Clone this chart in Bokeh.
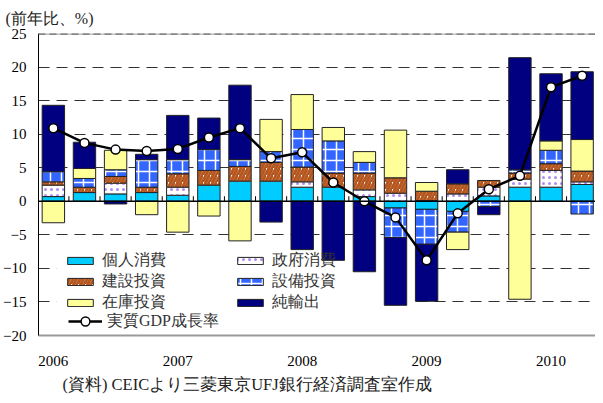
import numpy as np
from bokeh.plotting import figure
from bokeh.models import (ColumnDataSource, Range1d, FixedTicker, Span, Title,
                          Legend, LegendItem)
from bokeh.embed import file_html
from bokeh.resources import INLINE

# ---------------- data ----------------
quarters = ["2006Q1", "2006Q2", "2006Q3", "2006Q4",
            "2007Q1", "2007Q2", "2007Q3", "2007Q4",
            "2008Q1", "2008Q2", "2008Q3", "2008Q4",
            "2009Q1", "2009Q2", "2009Q3", "2009Q4",
            "2010Q1", "2010Q2"]
years = ["2006", "2007", "2008", "2009", "2010"]
series_names = ["個人消費", "政府消費", "建設投資", "設備投資", "在庫投資", "純輸出"]
gdp_name = "実質GDP成長率"
unit_text = "(前年比、%)"
source_text = "(資料) CEICより三菱東京UFJ銀行経済調査室作成"

personal     = [0.7, 1.3, 1.1, 1.3, 0.9, 2.4, 3.0, 3.0, 2.1, 2.1, 0.7, -1.0, -1.2, -1.5, 0.8, 2.1, 2.1, 2.5]
government   = [1.7, 0.0, 1.6, 0.0, 1.2, 0.0, 0.0, 0.0, 0.8, 0.0, 1.0, 1.2, 0.1, 1.1, 1.3, 1.2, 2.5, 0.4]
construction = [0.5, 0.8, 1.0, 0.8, 2.0, 2.2, 2.2, 2.8, 2.2, 2.1, 2.5, 2.3, 1.4, 1.5, 1.0, 0.9, 1.0, 1.6]
equipment    = [1.5, 1.3, 1.0, 4.1, 2.1, 3.1, 1.0, 1.6, 5.6, 4.8, 1.6, -4.4, -5.2, -3.1, -0.8, 0.5, 2.0, -1.9]
inventory    = [-3.2, 1.5, 2.9, -2.0, -4.6, -2.2, -5.9, 4.8, 5.2, 2.0, 1.6, 7.1, 1.3, -2.6, 0.0, -14.6, 1.4, 4.7]
net_exports  = [9.9, 3.9, -0.4, 0.8, 6.6, 4.7, 11.1, -3.1, -7.2, -8.8, -10.5, -10.1, -8.5, 2.1, -1.2, 16.7, 10.0, 10.1]
gdp_growth   = [10.9, 8.7, 7.7, 7.5, 7.8, 9.5, 10.9, 6.4, 7.3, 2.8, 0.0, -2.4, -8.8, -1.8, 1.8, 3.8, 17.0, 18.7]

y_ticks = [-20, -15, -10, -5, 0, 5, 10, 15, 20, 25]

# ---------------- styles ----------------
styles = [
    dict(fill_color="#00CCFF"),
    dict(fill_color="white", hatch_pattern=".", hatch_color="#B08CF0", hatch_scale=6, hatch_weight=1.5),
    dict(fill_color="white", hatch_pattern="/", hatch_color="#B5561F", hatch_scale=7, hatch_weight=3),
    dict(fill_color="#3366FF", hatch_pattern="+", hatch_color="white", hatch_scale=11, hatch_weight=1.5),
    dict(fill_color="#FFFF99"),
    dict(fill_color="#000080"),
]

n = len(quarters)
xs = np.arange(n)
X0, X1, Y0, Y1 = -0.478, 17.43, -20, 25
FRAME_W, FRAME_H = 562, 303          # pixels

p = figure(width=595, height=398,
           x_range=Range1d(X0, X1), y_range=Range1d(Y0, Y1),
           output_backend="svg", toolbar_location=None,
           min_border_left=33, min_border_right=0,
           min_border_top=33, min_border_bottom=62)
p.outline_line_color = None
p.background_fill_color = "white"
p.border_fill_color = "white"

# unit title (top-left) and source note (bottom)
p.title.text = unit_text
p.title.align = "left"
p.title.offset = -33
p.title.standoff = 14
p.title.text_font = "Liberation Serif"
p.title.text_font_style = "normal"
p.title.text_font_size = "16px"
p.title.text_color = "#222222"
p.add_layout(Title(text=source_text, align="left", offset=24, standoff=9,
                   text_font="Liberation Serif", text_font_style="normal",
                   text_font_size="16.5px", text_color="#222222"), "below")

# grid
p.xgrid.visible = False
p.ygrid.ticker = FixedTicker(ticks=[t for t in y_ticks if t not in (0, 25, -20)])
p.ygrid.grid_line_color = "#333333"
p.ygrid.grid_line_dash = "11 7"
p.ygrid.grid_line_width = 1

# y axis
p.yaxis.ticker = FixedTicker(ticks=y_ticks)
p.yaxis.axis_line_color = "black"
p.yaxis.axis_line_width = 1
p.yaxis.major_tick_out = 0
p.yaxis.major_tick_in = 0
p.yaxis.minor_tick_out = 0
p.yaxis.minor_tick_in = 0
p.yaxis.major_label_standoff = 12
p.yaxis.major_label_text_font = "Liberation Serif"
p.yaxis.major_label_text_font_size = "15px"
p.yaxis.major_label_text_color = "black"

# x axis (year labels under first quarter of each year)
year_pos = [quarters.index(y + "Q1") for y in years]
p.xaxis.ticker = FixedTicker(ticks=year_pos)
p.xaxis.major_label_overrides = {pos: y for pos, y in zip(year_pos, years)}
p.xaxis.axis_line_color = "#999999"
p.xaxis.axis_line_width = 2
p.xaxis.major_tick_out = 0
p.xaxis.major_tick_in = 0
p.xaxis.minor_tick_out = 0
p.xaxis.minor_tick_in = 0
p.xaxis.major_label_standoff = 20
p.xaxis.major_label_text_font = "Liberation Serif"
p.xaxis.major_label_text_font_size = "15px"
p.xaxis.major_label_text_color = "black"

# top border line at 25
p.add_layout(Span(location=25, dimension="width", line_color="#b0b0b0", line_width=2.5))
p.add_layout(Span(location=25, dimension="width", line_color="#707070", line_width=2.5, line_dash="7 4"))

# white legend backdrop (hides gridlines behind the legend, drawn under the bars)
px_x = (X1 - X0) / FRAME_W
px_y = (Y1 - Y0) / FRAME_H
bg_left, bg_right = X0 + 18 * px_x, X0 + 375 * px_x
bg_top, bg_bottom = Y0 + 93 * px_y, Y0 + 3 * px_y
p.quad(left=[bg_left], right=[bg_right], top=[bg_top], bottom=[bg_bottom],
       fill_color="white", line_color=None)

# stacked bars (positive and negative stacked separately)
pos_base = np.zeros(n)
neg_base = np.zeros(n)
bar_renderers = []
for vals, st in zip([personal, government, construction, equipment, inventory, net_exports], styles):
    v = np.array(vals, dtype=float)
    bottom = np.where(v >= 0, pos_base, neg_base)
    top = bottom + v
    pos_base = np.where(v >= 0, top, pos_base)
    neg_base = np.where(v < 0, top, neg_base)
    mask = v != 0
    src = ColumnDataSource(dict(x=xs[mask], top=top[mask], bottom=bottom[mask]))
    r = p.vbar(x="x", top="top", bottom="bottom", width=0.72, source=src,
               line_color="#222222", line_width=1, **st)
    bar_renderers.append(r)

# zero line and its category ticks
p.add_layout(Span(location=0, dimension="width", line_color="black", line_width=1.5))
bnd = xs[:-1] + 0.5
p.segment(x0=bnd, x1=bnd, y0=np.zeros(len(bnd)), y1=np.full(len(bnd), 0.75),
          line_color="black", line_width=1)

# GDP line
gsrc = ColumnDataSource(dict(x=xs, y=gdp_growth))
gl = p.line("x", "y", source=gsrc, line_color="black", line_width=2.5)
gs = p.scatter("x", "y", source=gsrc, size=9, marker="circle",
               fill_color="white", line_color="black", line_width=1.5)

# legends: two columns of bar items + one row for the GDP line
legend_style = dict(orientation="vertical", glyph_width=32, glyph_height=9,
                    label_height=20, label_standoff=6,
                    spacing=-1, padding=9, margin=0,
                    label_text_font="Liberation Serif", label_text_font_size="16px",
                    label_text_color="#333333", border_line_color=None,
                    background_fill_alpha=0)
col1 = [0, 2, 4]
col2 = [1, 3, 5]
legA = Legend(items=[LegendItem(label=series_names[i], renderers=[bar_renderers[i]]) for i in col1],
              location=(26, 22), **legend_style)
legB = Legend(items=[LegendItem(label=series_names[i], renderers=[bar_renderers[i]]) for i in col2],
              location=(196, 22), **legend_style)
p.add_layout(legA)
p.add_layout(legB)

leg2 = Legend(items=[LegendItem(label=gdp_name, renderers=[gl, gs])],
              location=(30, 3), orientation="vertical",
              glyph_width=34, glyph_height=22, label_height=22,
              label_standoff=5, spacing=0, padding=0, margin=0,
              label_text_font="Liberation Serif", label_text_font_size="16px",
              label_text_color="#333333",
              border_line_color=None, background_fill_alpha=0)
p.add_layout(leg2)

open("out.html", "w").write(file_html(p, INLINE))
